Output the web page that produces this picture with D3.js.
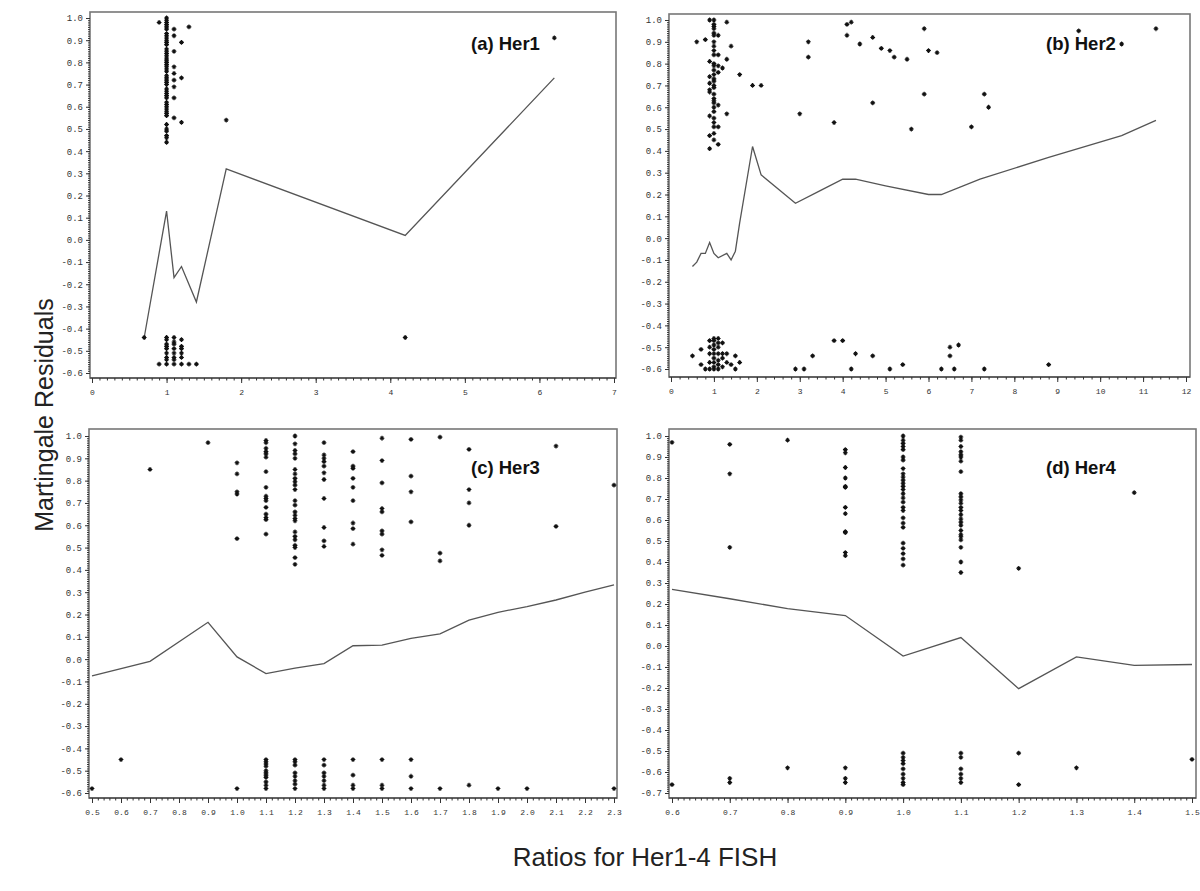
<!DOCTYPE html>
<html>
<head>
<meta charset="utf-8">
<script src="https://cdn.jsdelivr.net/npm/d3@7"></script>
<style>
  body { margin: 0; background: #fff; }
  svg { display: block; }
  .axis text { font-family: "Liberation Mono", "DejaVu Sans Mono", monospace; fill: #333; }
  .axis path, .axis line { stroke: #333; }
</style>
</head>
<body>
<script>
// Tick labels
var residTicks = [-0.6, -0.5, -0.4, -0.3, -0.2, -0.1, 0.0, 0.1, 0.2, 0.3, 0.4, 0.5, 0.6, 0.7, 0.8, 0.9, 1.0];
var her4YTicks = [-0.7, -0.6, -0.5, -0.4, -0.3, -0.2, -0.1, 0.0, 0.1, 0.2, 0.3, 0.4, 0.5, 0.6, 0.7, 0.8, 0.9, 1.0];
var her1XTicks = [0, 1, 2, 3, 4, 5, 6, 7];
var her2XTicks = [0, 1, 2, 3, 4, 5, 6, 7, 8, 9, 10, 11, 12];
var her3XTicks = [0.5, 0.6, 0.7, 0.8, 0.9, 1.0, 1.1, 1.2, 1.3, 1.4, 1.5, 1.6, 1.7, 1.8, 1.9, 2.0, 2.1, 2.2, 2.3];
var her4XTicks = [0.6, 0.7, 0.8, 0.9, 1.0, 1.1, 1.2, 1.3, 1.4, 1.5];

// Smoothed residual curves
var her1CurveX = [0.7, 1.0, 1.1, 1.2, 1.4, 1.8, 4.2, 6.2];
var her1CurveY = [-0.44, 0.13, -0.17, -0.12, -0.28, 0.32, 0.02, 0.73];
var her2CurveX = [0.5, 0.6, 0.7, 0.8, 0.9, 1.0, 1.1, 1.3, 1.4, 1.5, 1.6, 1.9, 2.1, 2.9, 3.5, 4.0, 4.3, 5.0, 6.0, 6.3, 7.2, 8.8, 10.5, 11.3];
var her2CurveY = [-0.13, -0.11, -0.07, -0.07, -0.02, -0.07, -0.09, -0.07, -0.10, -0.06, 0.07, 0.42, 0.29, 0.16, 0.22, 0.27, 0.27, 0.24, 0.20, 0.20, 0.27, 0.37, 0.47, 0.54];
var her3CurveX = [0.5, 0.7, 0.9, 1.0, 1.1, 1.2, 1.3, 1.4, 1.5, 1.6, 1.7, 1.8, 1.9, 2.0, 2.1, 2.2, 2.3];
var her3CurveY = [-0.075, -0.01, 0.165, 0.01, -0.065, -0.04, -0.02, 0.06, 0.063, 0.093, 0.113, 0.175, 0.21, 0.235, 0.265, 0.30, 0.333];
var her4CurveX = [0.6, 0.7, 0.8, 0.9, 1.0, 1.1, 1.2, 1.3, 1.4, 1.5];
var her4CurveY = [0.27, 0.225, 0.178, 0.145, -0.048, 0.04, -0.203, -0.052, -0.092, -0.088];

// Residual points: [ratio, [residuals at that ratio]]
var her1Points = [
  [0.7, [-0.44]],
  [0.9, [0.98, -0.56]],
  [1.0, [1.00, 0.99, 0.98, 0.97, 0.96, 0.95, 0.93, 0.92, 0.91, 0.90, 0.89, 0.88, 0.86, 0.85, 0.84, 0.83, 0.82, 0.81, 0.80, 0.79, 0.78, 0.77, 0.76, 0.74, 0.73, 0.72, 0.71, 0.70, 0.68, 0.67, 0.66, 0.65, 0.64, 0.62, 0.61, 0.60, 0.59, 0.58, 0.57, 0.56, 0.52, 0.50, 0.49, 0.47, 0.46, 0.44,
         -0.44, -0.45, -0.47, -0.48, -0.49, -0.51, -0.53, -0.54, -0.56]],
  [1.1, [0.95, 0.92, 0.85, 0.78, 0.75, 0.72, 0.69, 0.64, 0.55, -0.44, -0.46, -0.47, -0.49, -0.51, -0.53, -0.54, -0.56]],
  [1.2, [0.89, 0.73, 0.53, -0.45, -0.48, -0.49, -0.51, -0.53, -0.56]],
  [1.3, [0.96, -0.56]],
  [1.4, [-0.56]],
  [1.8, [0.54]],
  [4.2, [-0.44]],
  [6.2, [0.91]]
];

var her2Points = [
  [0.5, [-0.54]],
  [0.6, [0.90]],
  [0.7, [-0.51, -0.58]],
  [0.8, [0.91, -0.60]],
  [0.9, [1.00, 0.81, 0.74, 0.71, 0.68, 0.67, 0.56, 0.47, 0.41, -0.47, -0.50, -0.53, -0.57, -0.60]],
  [1.0, [1.00, 0.98, 0.97, 0.96, 0.94, 0.93, 0.90, 0.88, 0.86, 0.84, 0.80, 0.79, 0.77, 0.75, 0.73, 0.72, 0.70, 0.69, 0.66, 0.64, 0.63, 0.62, 0.60, 0.58, 0.55, 0.53, 0.51, 0.48, 0.45,
         -0.46, -0.47, -0.49, -0.51, -0.53, -0.55, -0.57, -0.59, -0.60]],
  [1.1, [0.93, 0.84, 0.79, 0.76, 0.61, 0.51, 0.43, -0.46, -0.48, -0.50, -0.53, -0.56, -0.58, -0.60]],
  [1.2, [0.78, -0.48, -0.53, -0.55, -0.59]],
  [1.3, [0.99, 0.82, 0.57, -0.53, -0.57]],
  [1.4, [0.88, -0.58]],
  [1.5, [-0.54, -0.60]],
  [1.6, [0.75, -0.57]],
  [1.9, [0.70]],
  [2.1, [0.70]],
  [2.9, [-0.60]],
  [3.0, [0.57]],
  [3.1, [-0.60]],
  [3.2, [0.90, 0.83]],
  [3.3, [-0.54]],
  [3.8, [0.53, -0.47]],
  [4.0, [-0.47]],
  [4.1, [0.98, 0.93]],
  [4.2, [0.99, -0.60]],
  [4.3, [-0.53]],
  [4.4, [0.89]],
  [4.7, [0.92, 0.62, -0.54]],
  [4.9, [0.87]],
  [5.1, [0.86, -0.60]],
  [5.2, [0.83]],
  [5.4, [-0.58]],
  [5.5, [0.82]],
  [5.6, [0.50]],
  [5.9, [0.96, 0.66]],
  [6.0, [0.86]],
  [6.2, [0.85]],
  [6.3, [-0.60]],
  [6.5, [-0.50, -0.54]],
  [6.6, [-0.60]],
  [6.7, [-0.49]],
  [7.0, [0.51]],
  [7.3, [0.66, -0.60]],
  [7.4, [0.60]],
  [8.8, [-0.58]],
  [9.5, [0.95]],
  [10.5, [0.89]],
  [11.3, [0.96]]
];

var her3Points = [
  [0.5, [-0.58]],
  [0.6, [-0.45]],
  [0.7, [0.85]],
  [0.9, [0.97]],
  [1.0, [0.88, 0.83, 0.75, 0.74, 0.54, -0.58]],
  [1.1, [0.98, 0.97, 0.945, 0.93, 0.92, 0.905, 0.84, 0.77, 0.73, 0.72, 0.71, 0.68, 0.65, 0.635, 0.625, 0.56,
         -0.45, -0.46, -0.47, -0.48, -0.50, -0.51, -0.52, -0.53, -0.55, -0.565, -0.58]],
  [1.2, [1.0, 0.965, 0.935, 0.92, 0.90, 0.85, 0.83, 0.81, 0.795, 0.78, 0.76, 0.71, 0.69, 0.66, 0.645, 0.63, 0.62, 0.57, 0.55, 0.535, 0.51, 0.50, 0.455, 0.425,
         -0.45, -0.46, -0.475, -0.51, -0.525, -0.545, -0.56, -0.58]],
  [1.3, [0.97, 0.915, 0.90, 0.885, 0.865, 0.835, 0.805, 0.72, 0.59, 0.53, 0.505, -0.45, -0.475, -0.51, -0.525, -0.545, -0.565, -0.58]],
  [1.4, [0.93, 0.865, 0.855, 0.81, 0.77, 0.71, 0.61, 0.585, 0.515, -0.45, -0.52, -0.565, -0.58]],
  [1.5, [0.99, 0.89, 0.79, 0.675, 0.66, 0.575, 0.56, 0.49, 0.465, -0.45, -0.565, -0.58]],
  [1.6, [0.985, 0.82, 0.75, 0.615, -0.45, -0.525, -0.58]],
  [1.7, [0.995, 0.475, 0.44, -0.58]],
  [1.8, [0.94, 0.76, 0.70, 0.60, -0.565]],
  [1.9, [-0.58]],
  [2.0, [-0.58]],
  [2.1, [0.955, 0.595]],
  [2.3, [0.78, -0.58]]
];

var her4Points = [
  [0.6, [0.97, -0.66]],
  [0.7, [0.96, 0.82, 0.47, -0.63, -0.65]],
  [0.8, [0.98, -0.58]],
  [0.9, [0.935, 0.92, 0.85, 0.80, 0.76, 0.755, 0.66, 0.63, 0.545, 0.54, 0.445, 0.43, -0.58, -0.63, -0.65]],
  [1.0, [1.0, 0.98, 0.965, 0.95, 0.935, 0.90, 0.885, 0.845, 0.82, 0.805, 0.79, 0.775, 0.76, 0.745, 0.725, 0.705, 0.685, 0.66, 0.645, 0.61, 0.585, 0.565, 0.49, 0.465, 0.44, 0.415, 0.385,
         -0.51, -0.53, -0.545, -0.56, -0.585, -0.61, -0.63, -0.65, -0.66]],
  [1.1, [0.995, 0.98, 0.95, 0.925, 0.91, 0.90, 0.88, 0.83, 0.725, 0.71, 0.695, 0.68, 0.66, 0.645, 0.625, 0.605, 0.59, 0.575, 0.55, 0.53, 0.52, 0.505, 0.47, 0.40, 0.35,
         -0.51, -0.53, -0.585, -0.61, -0.63, -0.65]],
  [1.2, [0.37, -0.51, -0.66]],
  [1.3, [-0.58]],
  [1.4, [0.73]],
  [1.5, [-0.54]]
];

var width = 1200, height = 891;

var svg = d3.select("body").append("svg")
    .attr("width", width)
    .attr("height", height);

// star marker like the SAS plotting symbol
var starPath = "M-2.4,0H2.4M0,-2.4V2.4M-1.5,-1.5L1.5,1.5M-1.5,1.5L1.5,-1.5";

function fmt(d) { return (+d).toFixed(1); }

function drawPanel(p) {
    var x = d3.scaleLinear().domain(p.xDomain).range(p.xRange);
    var y = d3.scaleLinear().domain(p.yDomain).range(p.yRange);
    var g = svg.append("g");

    // frame
    g.append("rect")
        .attr("x", p.frame[0]).attr("y", p.frame[1])
        .attr("width", p.frame[2] - p.frame[0])
        .attr("height", p.frame[3] - p.frame[1])
        .attr("fill", "none")
        .attr("stroke", "#777")
        .attr("stroke-width", 1.6);

    // y axis minor ticks
    g.append("g")
        .attr("class", "axis")
        .attr("transform", "translate(" + p.frame[0] + ",0)")
        .call(d3.axisLeft(y).tickValues(d3.range(p.yDomain[0], p.yDomain[1] + 0.001, 0.01)).tickSize(2).tickSizeOuter(0).tickFormat(""))
        .call(function(s) { s.select(".domain").remove(); });

    // y axis
    g.append("g")
        .attr("class", "axis")
        .attr("transform", "translate(" + p.frame[0] + ",0)")
        .call(d3.axisLeft(y).tickValues(p.yTicks).tickSize(4).tickSizeOuter(0).tickPadding(3).tickFormat(fmt))
        .call(function(s) {
            s.select(".domain").remove();
            s.selectAll("text").attr("font-size", 9);
        });

    // x axis minor ticks
    g.append("g")
        .attr("class", "axis")
        .attr("transform", "translate(0," + p.frame[3] + ")")
        .call(d3.axisBottom(x).tickValues(d3.range(p.xDomain[0], p.xDomain[1] + 1e-6, p.xMinor)).tickSize(2.5).tickSizeOuter(0).tickFormat(""))
        .call(function(s) { s.select(".domain").remove(); });

    // x axis
    g.append("g")
        .attr("class", "axis")
        .attr("transform", "translate(0," + p.frame[3] + ")")
        .call(d3.axisBottom(x).tickValues(p.xTicks).tickSize(5).tickSizeOuter(0).tickPadding(6).tickFormat(p.xFormat))
        .call(function(s) {
            s.select(".domain").attr("d", "M" + p.frame[0] + ",0H" + Math.max(p.frame[2], p.xRange[1]));
            s.selectAll("text").attr("font-size", 8).attr("fill", "#555");
        });

    // smoothed curve
    var curve = p.curveX.map(function(v, i) { return [v, p.curveY[i]]; });
    g.append("path")
        .datum(curve)
        .attr("fill", "none")
        .attr("stroke", "#555")
        .attr("stroke-width", 1.3)
        .attr("d", d3.line().x(function(d) { return x(d[0]); }).y(function(d) { return y(d[1]); }));

    // residual points
    var pts = [];
    p.points.forEach(function(c) {
        c[1].forEach(function(v) { pts.push([c[0], v]); });
    });
    g.append("g")
        .selectAll("path")
        .data(pts)
        .enter()
        .append("path")
            .attr("d", starPath)
            .attr("transform", function(d) { return "translate(" + x(d[0]) + "," + y(d[1]) + ")"; })
            .attr("stroke", "#111")
            .attr("stroke-width", 1.1)
            .attr("fill", "none");

    // panel label
    g.append("text")
        .attr("x", p.labelPos[0])
        .attr("y", p.labelPos[1])
        .attr("font-family", "Liberation Sans, Arial, sans-serif")
        .attr("font-weight", "bold")
        .attr("font-size", 18.5)
        .attr("fill", "#111")
        .text(p.label);
}

var intFmt = function(d) { return String(d); };

drawPanel({
    label: "(a) Her1", labelPos: [471, 50],
    frame: [90, 12, 616, 378],
    xDomain: [0, 7], xRange: [92, 614], xTicks: her1XTicks, xMinor: 0.1, xFormat: intFmt,
    yDomain: [-0.6, 1.0], yRange: [373, 18], yTicks: residTicks,
    curveX: her1CurveX, curveY: her1CurveY, points: her1Points
});

drawPanel({
    label: "(b) Her2", labelPos: [1046, 50],
    frame: [669, 14, 1190, 377],
    xDomain: [0, 12], xRange: [671, 1186], xTicks: her2XTicks, xMinor: 0.2, xFormat: intFmt,
    yDomain: [-0.6, 1.0], yRange: [369, 20], yTicks: residTicks,
    curveX: her2CurveX, curveY: her2CurveY, points: her2Points
});

drawPanel({
    label: "(c) Her3", labelPos: [471, 474],
    frame: [89, 429, 617, 798],
    xDomain: [0.5, 2.3], xRange: [92, 614], xTicks: her3XTicks, xMinor: 0.02, xFormat: fmt,
    yDomain: [-0.6, 1.0], yRange: [793, 436], yTicks: residTicks,
    curveX: her3CurveX, curveY: her3CurveY, points: her3Points
});

drawPanel({
    label: "(d) Her4", labelPos: [1046, 474],
    frame: [669, 429, 1196, 798],
    xDomain: [0.6, 1.5], xRange: [672, 1192], xTicks: her4XTicks, xMinor: 0.01, xFormat: fmt,
    yDomain: [-0.7, 1.0], yRange: [793, 436], yTicks: her4YTicks,
    curveX: her4CurveX, curveY: her4CurveY, points: her4Points
});

// axis titles
svg.append("text")
    .attr("transform", "translate(53,415) rotate(-90)")
    .attr("text-anchor", "middle")
    .attr("font-family", "Liberation Sans, Arial, sans-serif")
    .attr("font-size", 25)
    .attr("fill", "#222")
    .text("Martingale Residuals");

svg.append("text")
    .attr("x", 645)
    .attr("y", 866)
    .attr("text-anchor", "middle")
    .attr("font-family", "Liberation Sans, Arial, sans-serif")
    .attr("font-size", 26)
    .attr("fill", "#222")
    .text("Ratios for Her1-4 FISH");
</script>
</body>
</html>
